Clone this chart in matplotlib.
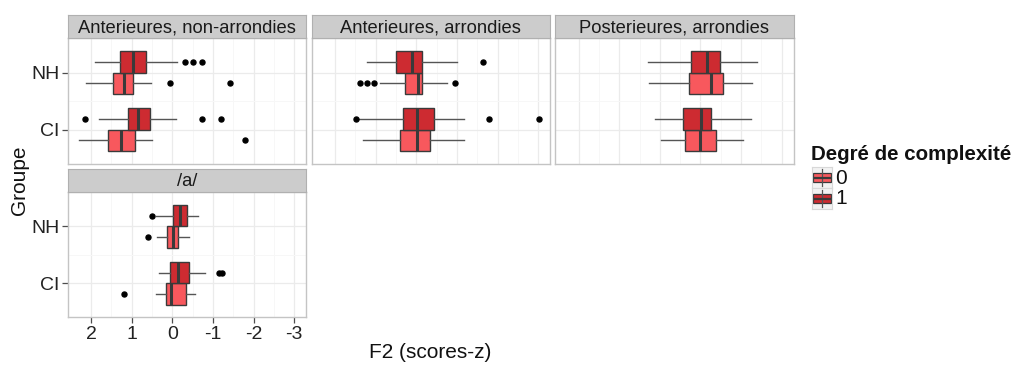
import matplotlib
matplotlib.use("Agg")
import matplotlib.pyplot as plt
from matplotlib.patches import Rectangle

plt.rcParams["font.family"] = ["Liberation Sans", "DejaVu Sans"]

W, H = 1018, 365

panel_titles = ["Anterieures, non-arrondies", "Anterieures, arrondies",
                "Posterieures, arrondies", "/a/"]
groups = ["CI", "NH"]
degrees = ["0", "1"]

# five-number summaries per panel, order: CI-0, CI-1, NH-0, NH-1
# each row: [whislo, q1, med, q3, whishi]
p1_stats = [[0.51, 0.91, 1.26, 1.58, 2.30],
            [-0.08, 0.55, 0.85, 1.08, 1.81],
            [0.53, 0.96, 1.18, 1.47, 2.13],
            [-0.11, 0.66, 0.96, 1.28, 1.90]]
p1_fliers = [[-1.79], [2.15, -0.74, -1.20], [0.05, -1.41], [-0.30, -0.50, -0.74]]

p2_stats = [[-1.17, -0.34, -0.02, 0.39, 1.31],
            [-1.17, -0.44, -0.02, 0.33, 1.40],
            [-0.76, -0.14, -0.04, 0.29, 0.90],
            [-1.01, -0.15, 0.11, 0.49, 1.21]]
p2_fliers = [[], [1.49, -1.80, -3.02], [1.38, 1.21, 1.04, -0.94], [-1.63]]

p3_stats = [[-2.04, -1.38, -0.99, -0.62, -0.02],
            [-2.24, -1.26, -1.01, -0.56, 0.11],
            [-2.26, -1.56, -1.26, -0.72, 0.27],
            [-2.40, -1.48, -1.17, -0.76, 0.30]]
p3_fliers = [[], [], [], []]

p4_stats = [[-0.56, -0.33, 0.03, 0.15, 0.41],
            [-0.81, -0.40, -0.15, 0.06, 0.34],
            [-0.40, -0.13, -0.02, 0.14, 0.37],
            [-0.64, -0.36, -0.19, -0.02, 0.39]]
p4_fliers = [[1.18], [-1.14, -1.22], [0.59], [0.51]]

x_ticks = [2, 1, 0, -1, -2, -3]
x_minor = [1.5, 0.5, -0.5, -1.5, -2.5]

fill_colors = {"0": "#F8585D", "1": "#CD2B31"}
edge_col = "#3A3A3A"


def px_rect(x0, y0, x1, y1):
    return [x0 / W, 1 - y1 / H, (x1 - x0) / W, (y1 - y0) / H]


fig = plt.figure(figsize=(W / 100, H / 100), dpi=100)

# pixel layout: (left, right, strip_top, panel_top, panel_bottom)
layout = [(67.5, 306, 15, 38.3, 164),
          (311.5, 550, 15, 38.3, 164),
          (555, 793.5, 15, 38.3, 164),
          (67.5, 306, 169.3, 192.3, 317.3)]

all_stats = [p1_stats, p2_stats, p3_stats, p4_stats]
all_fliers = [p1_fliers, p2_fliers, p3_fliers, p4_fliers]

for i, (l, r, st, pt, pb) in enumerate(layout):
    ax = fig.add_axes(px_rect(l, pt, r, pb))
    stats = []
    positions = []
    colors = []
    k = 0
    for gi, g in enumerate(groups):
        for d in degrees:
            s = all_stats[i][k]
            stats.append(dict(whislo=s[0], q1=s[1], med=s[2], q3=s[3],
                              whishi=s[4], fliers=all_fliers[i][k]))
            offset = -0.1875 if d == "0" else 0.1875
            positions.append(gi + 1 + offset)
            colors.append(fill_colors[d])
            k += 1
    bp = ax.bxp(stats, positions=positions, widths=0.375, orientation="horizontal",
                patch_artist=True, showcaps=False, manage_ticks=False,
                boxprops=dict(edgecolor=edge_col, linewidth=1.0),
                medianprops=dict(color=edge_col, linewidth=2.2),
                whiskerprops=dict(color="#555555", linewidth=1.0),
                flierprops=dict(marker="o", markerfacecolor="black",
                                markeredgecolor="black", markersize=3.6))
    for patch, c in zip(bp["boxes"], colors):
        patch.set_facecolor(c)

    ax.set_xlim(2.58, -3.29)
    ax.set_ylim(0.4, 2.6)
    ax.set_xticks(x_ticks)
    ax.set_xticks(x_minor, minor=True)
    ax.set_yticks([1, 2])
    ax.set_yticks([1.5], minor=True)
    ax.grid(True, which="major", color="#EBEBEB", linewidth=0.9, zorder=0)
    ax.grid(True, which="minor", color="#F7F7F7", linewidth=0.7, zorder=0)
    ax.set_axisbelow(True)
    for sp in ax.spines.values():
        sp.set_color("#C4C4C4")
        sp.set_linewidth(1.0)
    ax.tick_params(which="minor", length=0)
    ax.tick_params(which="major", length=4, color="#4D4D4D", width=0.9,
                   labelsize=14, labelcolor="#222222", pad=2)
    if i in (0, 3):
        ax.set_yticklabels(["CI", "NH"])
    else:
        ax.tick_params(axis="y", which="major", length=0, labelleft=False)
    if i == 3:
        ax.set_xticklabels([str(t) for t in x_ticks])
    else:
        ax.tick_params(axis="x", which="major", length=0, labelbottom=False)

    # strip
    sax = fig.add_axes(px_rect(l, st, r, pt))
    sax.set_facecolor("#CCCCCC")
    sax.set_xticks([])
    sax.set_yticks([])
    for sp in sax.spines.values():
        sp.set_color("#B0B0B0")
    sax.text(0.5, 0.45, panel_titles[i], ha="center", va="center",
             fontsize=13.2, color="#1A1A1A", transform=sax.transAxes)

fig.text(430 / W, 1 - 353 / H, "F2 (scores-z)", ha="center", va="center",
         fontsize=15, color="#111111")
fig.text(19 / W, 1 - 180 / H, "Groupe", ha="center", va="center",
         rotation=90, fontsize=15, color="#111111")

# legend
fig.text(811 / W, 1 - 155 / H, "Degré de complexité", ha="left", va="center",
         fontsize=14.8, fontweight="bold", color="#111111")
for j, d in enumerate(degrees):
    y0 = 167 + j * 21
    kax = fig.add_axes(px_rect(812, y0, 832, y0 + 21))
    kax.set_xlim(0, 1)
    kax.set_ylim(0, 1)
    kax.set_facecolor("#F2F2F2")
    kax.set_xticks([])
    kax.set_yticks([])
    for sp in kax.spines.values():
        sp.set_color("#D8D8D8")
    kax.plot([0.5, 0.5], [0.08, 0.92], color="#555555", linewidth=0.9)
    kax.add_patch(Rectangle((0.07, 0.27), 0.86, 0.46, facecolor=fill_colors[d],
                            edgecolor=edge_col, linewidth=0.9))
    kax.plot([0.07, 0.93], [0.5, 0.5], color=edge_col, linewidth=1.6)
    fig.text(835 / W, 1 - (y0 + 11) / H, d, ha="left", va="center",
             fontsize=15, color="#111111")

fig.savefig("out.png", dpi=100)
